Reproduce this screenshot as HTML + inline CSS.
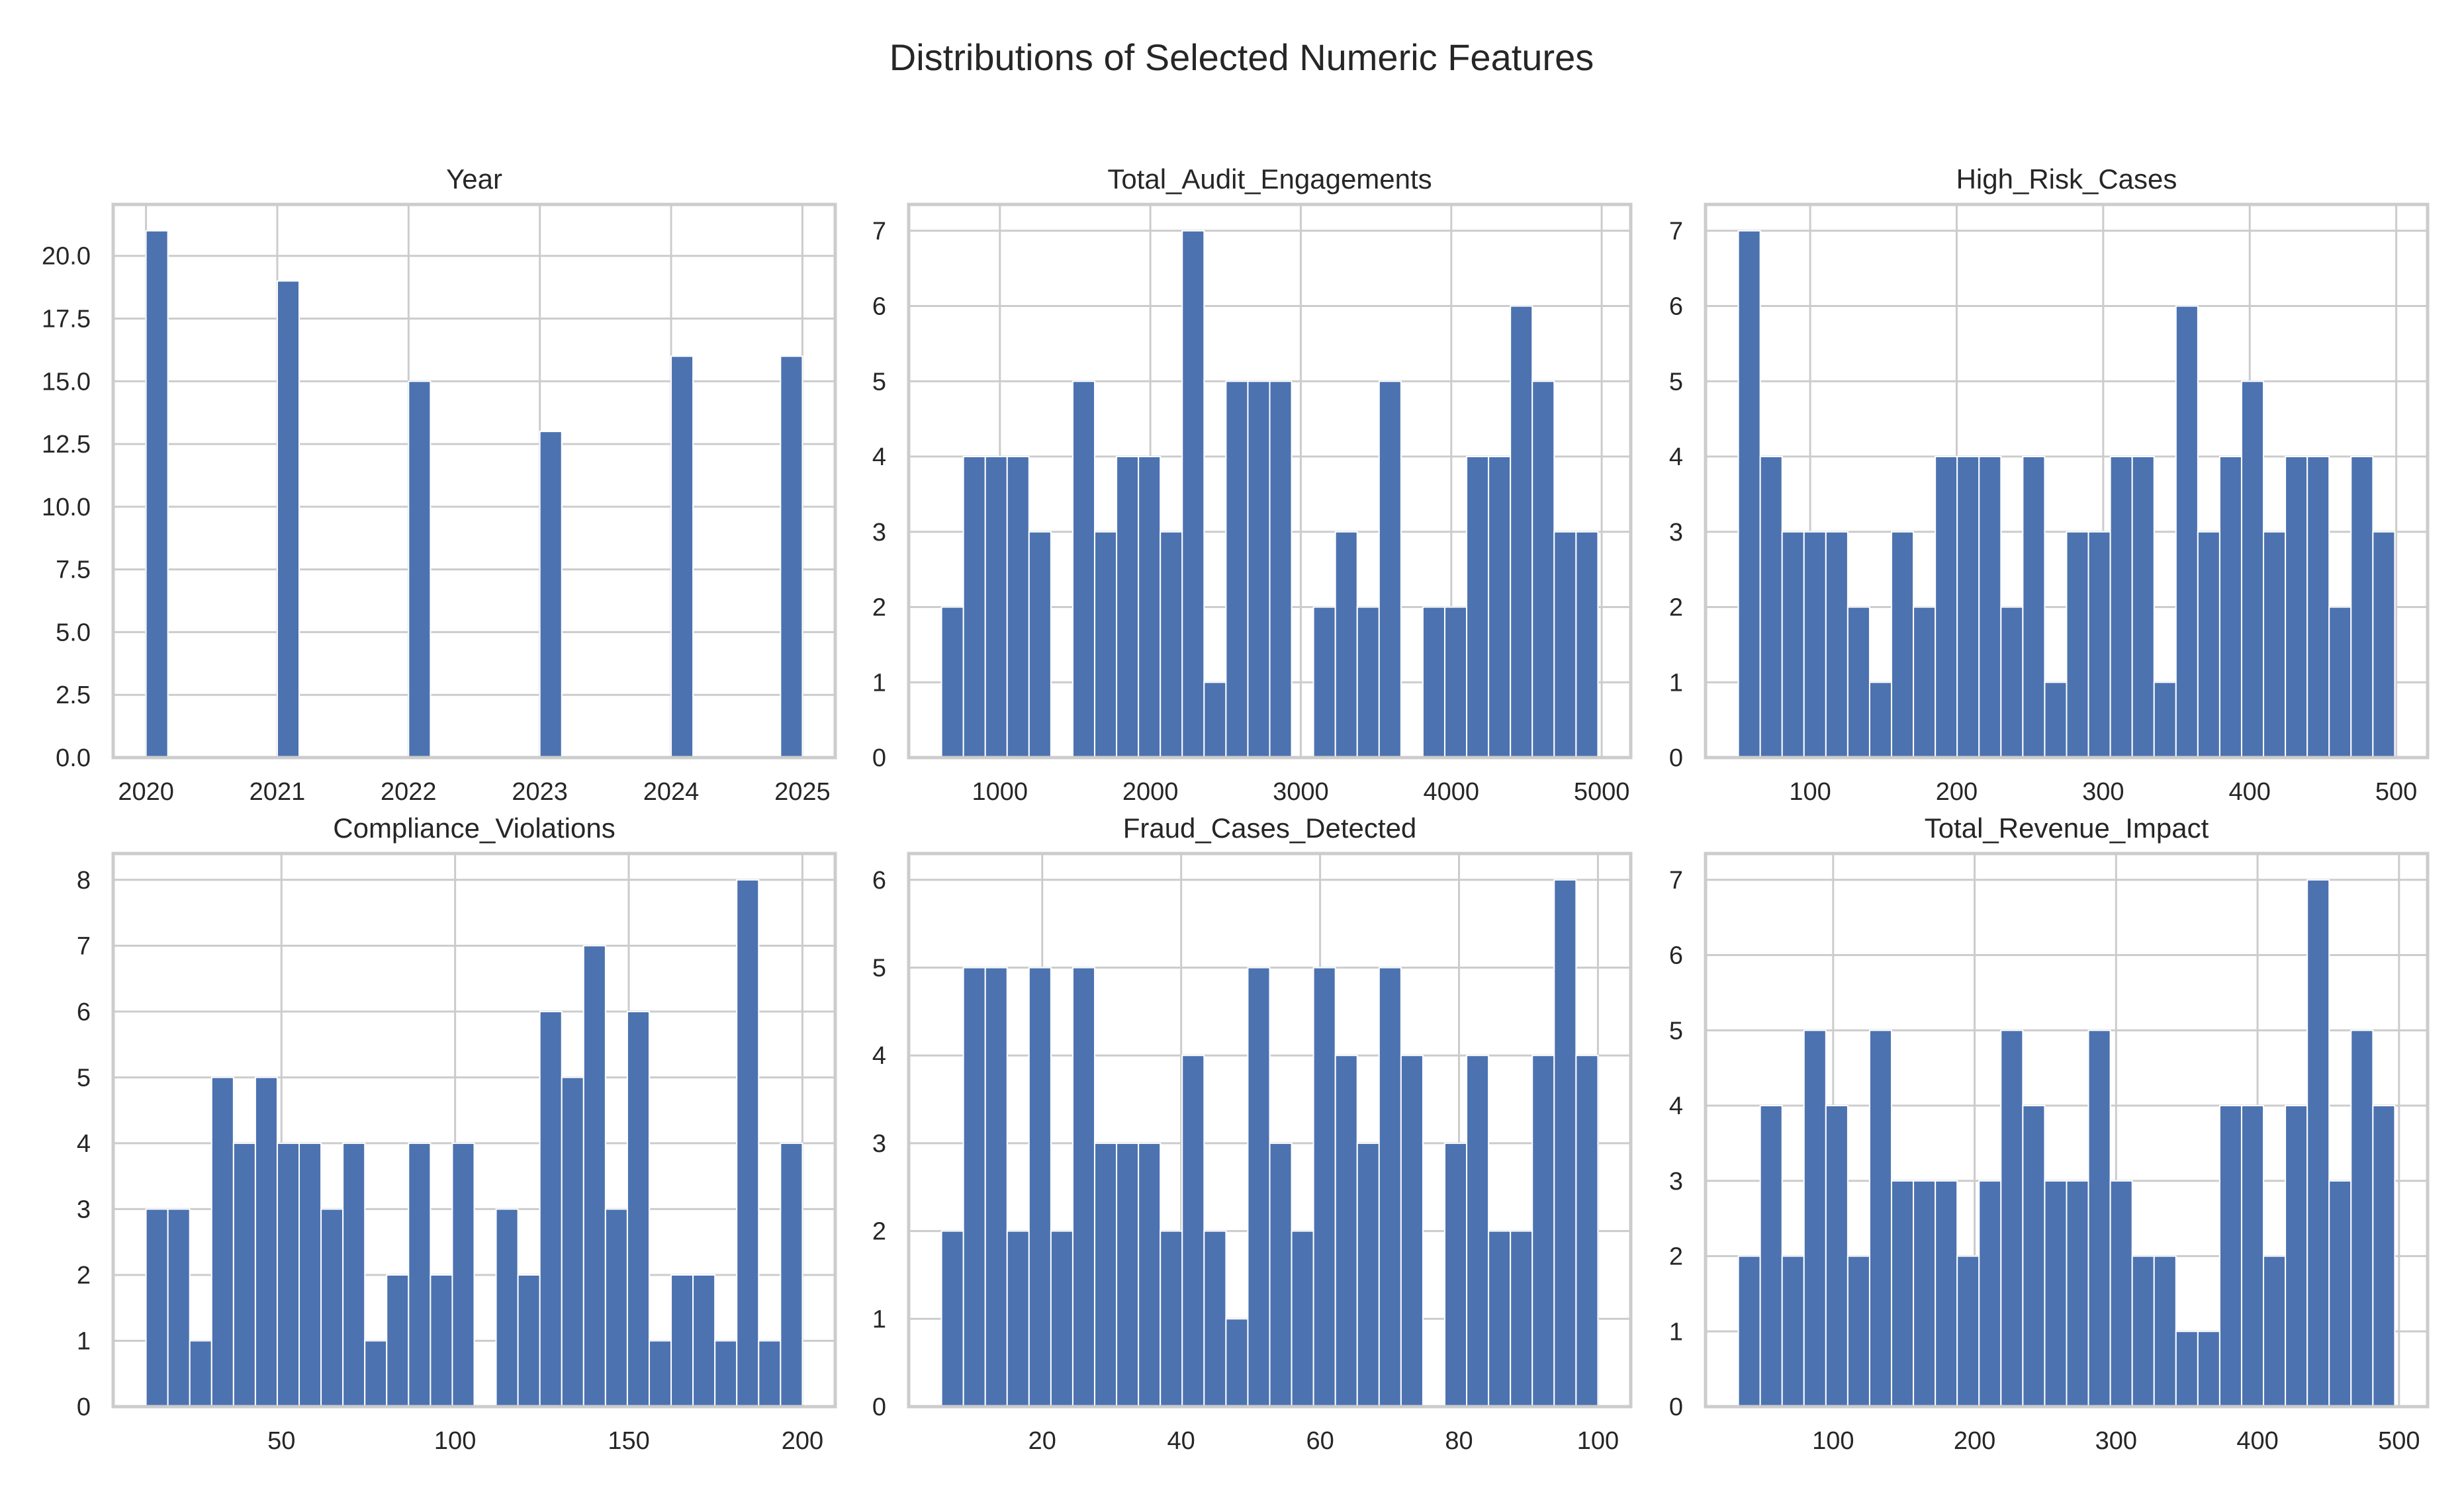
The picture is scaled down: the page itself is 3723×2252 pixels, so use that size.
<!DOCTYPE html>
<html><head><meta charset="utf-8"><style>
html,body{margin:0;padding:0;background:#fff;}
svg{display:block;font-family:"Liberation Sans",Arial,sans-serif;}
</style></head><body>
<svg id="fig" width="3723" height="2252" viewBox="0 0 3723 2252" xmlns="http://www.w3.org/2000/svg">
<rect width="3723" height="2252" fill="#fff"/>
<text x="1876" y="106" font-size="56" text-anchor="middle" fill="#262626">Distributions of Selected Numeric Features</text>
</svg>
<script>
// Data arrays
const panelTitles = ["Year","Total_Audit_Engagements","High_Risk_Cases","Compliance_Violations","Fraud_Cases_Detected","Total_Revenue_Impact"];
const yearCounts = [21,0,0,0,0,0,19,0,0,0,0,0,15,0,0,0,0,0,13,0,0,0,0,0,16,0,0,0,0,16];
const auditCounts = [2,4,4,4,3,0,5,3,4,4,3,7,1,5,5,5,0,2,3,2,5,0,2,2,4,4,6,5,3,3];
const riskCounts = [7,4,3,3,3,2,1,3,2,4,4,4,2,4,1,3,3,4,4,1,6,3,4,5,3,4,4,2,4,3];
const complianceCounts = [3,3,1,5,4,5,4,4,3,4,1,2,4,2,4,0,3,2,6,5,7,3,6,1,2,2,1,8,1,4];
const fraudCounts = [2,5,5,2,5,2,5,3,3,3,2,4,2,1,5,3,2,5,4,3,5,4,0,3,4,2,2,4,6,4];
const revenueCounts = [2,4,2,5,4,2,5,3,3,3,2,3,5,4,3,3,5,3,2,2,1,1,4,4,2,4,7,3,5,4];
const dataMin = [2020,612,51,11,5.5,33];
const dataMax = [2025,4975,499,200,100,497];
const xTicks = [[2020,2021,2022,2023,2024,2025],[1000,2000,3000,4000,5000],[100,200,300,400,500],[50,100,150,200],[20,40,60,80,100],[100,200,300,400,500]];
const yTicks = [[0,2.5,5,7.5,10,12.5,15,17.5,20],[0,1,2,3,4,5,6,7],[0,1,2,3,4,5,6,7],[0,1,2,3,4,5,6,7,8],[0,1,2,3,4,5,6],[0,1,2,3,4,5,6,7]];
const yTickDecimals = [1,0,0,0,0,0];

const allCounts = [yearCounts,auditCounts,riskCounts,complianceCounts,fraudCounts,revenueCounts];
const svg = document.getElementById('fig');
const NS = 'http://www.w3.org/2000/svg';
const colX = [171,1373,2577], colW = 1091;
const rowY = [309,1290], rowH = 836;
function mk(tag, attrs, parent){const e=document.createElementNS(NS,tag);for(const k in attrs)e.setAttribute(k,attrs[k]);(parent||svg).appendChild(e);return e;}

for(let p=0;p<6;p++){
  const L=colX[p%3], T=rowY[Math.floor(p/3)], W=colW, H=rowH;
  const counts=allCounts[p];
  const a=dataMin[p], b=dataMax[p], R=b-a;
  const x0=a-0.05*R, x1=b+0.05*R;
  const ymax=Math.max(...counts)*1.05;
  const sx=v=>L+(v-x0)/(x1-x0)*W;
  const sy=v=>T+H-(v/ymax)*H;
  const g=mk('g',{});
  
  
  xTicks[p].forEach(t=>{
    const l=mk('line',{x1:sx(t),x2:sx(t),y1:T,y2:T+H,stroke:'#cccccc','stroke-width':3},g);
    
    
    const tx=mk('text',{x:sx(t),y:T+H+64,'font-size':38,'text-anchor':'middle',fill:'#262626'},g);
    tx.textContent=String(t);
    
    
  });
  yTicks[p].forEach(t=>{
    const l=mk('line',{x1:L,x2:L+W,y1:sy(t),y2:sy(t),stroke:'#cccccc','stroke-width':3},g);
    
    
    const tx=mk('text',{x:L-34,y:sy(t)+13,'font-size':38,'text-anchor':'end',fill:'#262626'},g);
    tx.textContent=t.toFixed(yTickDecimals[p]);
    
    
  });
  const bw=R/counts.length;
  counts.forEach((c,i)=>{
    if(c<=0) return;
    const xa=sx(a+i*bw), xb=sx(a+(i+1)*bw);
    const r=mk('rect',{x:xa,y:sy(c),width:xb-xa,height:sy(0)-sy(c),fill:'#4c72b0',stroke:'#ffffff','stroke-width':2},g);
    
    
  });
  const sp=mk('rect',{x:L,y:T,width:W,height:H,fill:'none',stroke:'#cccccc','stroke-width':5},g);
  
  
  const tt=mk('text',{x:L+W/2,y:T-24,'font-size':42,'text-anchor':'middle',fill:'#262626'},g);
  tt.textContent=panelTitles[p];
  
  
}
</script>
</body></html>
